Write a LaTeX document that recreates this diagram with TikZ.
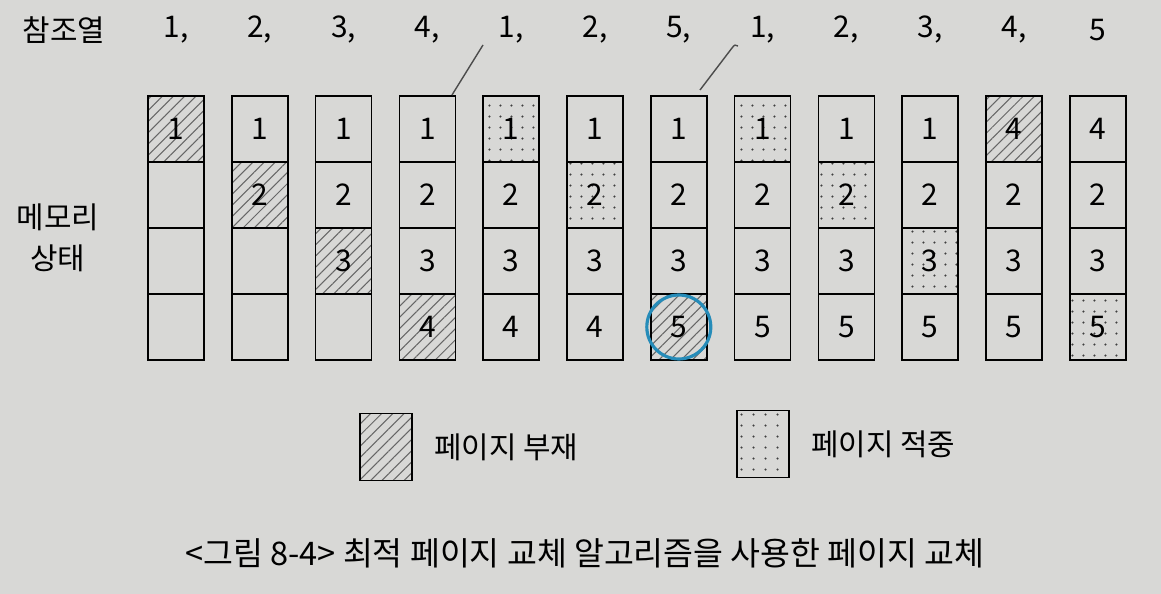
\documentclass[tikz,border=0pt]{standalone}
\usepackage{fontspec}
\setmainfont{Noto Sans CJK KR}
\usepackage{xcolor}
\usepackage{tikz}
\usetikzlibrary{patterns.meta}
\definecolor{pagegray}{RGB}{216,216,214}
\definecolor{penblue}{RGB}{38,140,185}
\tikzset{
	cell/.style={draw,line width=1pt,minimum width=1.12cm,minimum height=1.32cm,inner sep=0pt,font=\fontsize{17}{17}\selectfont},
	pfault/.style={pattern={Lines[angle=45,distance=4.5pt,line width=0.6pt]},pattern color=black!60},
	phit/.style={pattern={Dots[distance=6.5pt,radius=0.7pt]},pattern color=black!75},
	pnone/.style={},
	lbl/.style={font=\fontsize{17}{23}\selectfont}
}
\begin{document}
\begin{tikzpicture}[x=0.02cm,y=-0.02cm]
	\fill[pagegray] (0,0) rectangle (1161,594);
	\useasboundingbox (0,0) rectangle (1161,594);
	% reference string
	\node[lbl] (refs) at (64,30) {참조열};
	\foreach \i/\r in {1/{1,},2/{2,},3/{3,},4/{4,},5/{1,},6/{2,},7/{5,},8/{1,},9/{2,},10/{3,},11/{4,},12/5}
		\node[lbl] (r\i) at ({176+83.8*(\i-1)},30) {\r};
	% memory frames
	\node[lbl,align=center] (mem) at (58,238) {메모리\\상태};
	\foreach \i/\col in {
		1/{1/pfault,/pnone,/pnone,/pnone},
		2/{1/pnone,2/pfault,/pnone,/pnone},
		3/{1/pnone,2/pnone,3/pfault,/pnone},
		4/{1/pnone,2/pnone,3/pnone,4/pfault},
		5/{1/phit,2/pnone,3/pnone,4/pnone},
		6/{1/pnone,2/phit,3/pnone,4/pnone},
		7/{1/pnone,2/pnone,3/pnone,5/pfault},
		8/{1/phit,2/pnone,3/pnone,5/pnone},
		9/{1/pnone,2/phit,3/pnone,5/pnone},
		10/{1/pnone,2/pnone,3/phit,5/pnone},
		11/{4/pfault,2/pnone,3/pnone,5/pnone},
		12/{4/pnone,2/pnone,3/pnone,5/phit}}
		\foreach \v/\t [count=\j] in \col
			\node[cell,\t] (c\i-\j) at ({176+83.8*(\i-1)},{129+66*(\j-1)}) {\v};
	% pen marks
	\draw[line width=0.8pt,black!70] (452,95) -- (483,45);
	\draw[line width=0.8pt,black!70] (700,90) -- (732,48) .. controls (734,45) and (736,44) .. (738,46);
	\draw[penblue,line width=1.8pt] (c7-4) circle (0.64cm);
	% legend
	\node[cell,pfault,minimum width=1.04cm,minimum height=1.34cm] (kfault) at (386,447) {};
	\node[lbl,anchor=west] (tfault) at (428,447) {페이지 부재};
	\node[cell,phit,minimum width=1.04cm,minimum height=1.34cm] (khit) at (763,444) {};
	\node[lbl,anchor=west] (thit) at (805,444) {페이지 적중};
	% caption
	\node[font=\fontsize{18.5}{18.5}\selectfont] (cap) at (585,553) {<그림 8-4> 최적 페이지 교체 알고리즘을 사용한 페이지 교체};
\end{tikzpicture}
\end{document}
